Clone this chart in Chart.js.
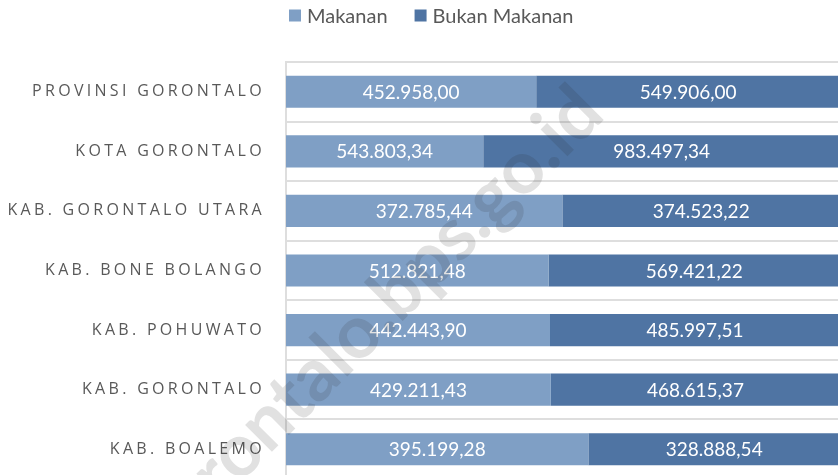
<!DOCTYPE html>
<html>
<head>
<meta charset="utf-8">
<script src="https://cdn.jsdelivr.net/npm/chart.js@4.4.0/dist/chart.umd.min.js"></script>
<style>
html, body { margin: 0; padding: 0; background: #fff; overflow: hidden; }
#wrap { position: relative; width: 840px; height: 479px; }
</style>
</head>
<body>
<div id="wrap"><canvas id="chart"></canvas></div>
<script>
const categories = ['PROVINSI GORONTALO', 'KOTA GORONTALO', 'KAB. GORONTALO UTARA', 'KAB. BONE BOLANGO', 'KAB. POHUWATO', 'KAB. GORONTALO', 'KAB. BOALEMO'];
const makanan = [452958.00, 543803.34, 372785.44, 512821.48, 442443.90, 429211.43, 395199.28];
const bukanMakanan = [549906.00, 983497.34, 374523.22, 569421.22, 485997.51, 468615.37, 328888.54];
const seriesNames = ['Makanan', 'Bukan Makanan'];
const watermarkText = 'gorontalo.bps.go.id';

const COLORS = ['#7f9fc5', '#4f74a3'];
const GRID = '#dedede';
const TEXT = '#595959';

// share of each bar total, so both parts fill 100%
function share(values, i){
	return values[i] / (makanan[i] + bukanMakanan[i]) * 100;
}
// 452958 -> "452.958,00"
function fmtID(n){
	const parts = n.toFixed(2).split('.');
	return parts[0].replace(/\B(?=(\d{3})+(?!\d))/g, '.') + ',' + parts[1];
}

const spacedLabels = {
	id: 'spacedLabels',
	beforeDraw(chart){
		const s = chart.scales.y;
		if(s._spaced) return;
		const orig = s.drawLabels;
		s.drawLabels = function(area){
			this.ctx.save();
			this.ctx.letterSpacing = '3.3px';
			orig.call(this, area);
			this.ctx.restore();
		};
		s._spaced = true;
	}
};

const valueLabels = {
	id: 'valueLabels',
	afterDatasetsDraw(chart){
		const ctx = chart.ctx;
		ctx.save();
		ctx.fillStyle = '#ffffff';
		ctx.font = '19px Lato';
		ctx.textAlign = 'center';
		ctx.textBaseline = 'middle';
		chart.data.datasets.forEach((ds, di) => {
			const meta = chart.getDatasetMeta(di);
			meta.data.forEach((bar, i) => {
				ctx.fillText(fmtID(ds.raw[i]), (bar.x + bar.base) / 2, bar.y + 1);
			});
		});
		ctx.restore();
	}
};

const topLegend = {
	id: 'topLegend',
	afterDraw(chart){
		const ctx = chart.ctx;
		const cy = 15.5;
		let x = 289;
		ctx.save();
		ctx.font = '20px Lato';
		ctx.textBaseline = 'middle';
		chart.data.datasets.forEach(ds => {
			ctx.fillStyle = ds.backgroundColor;
			ctx.fillRect(x, cy - 6, 12, 12);
			ctx.fillStyle = TEXT;
			ctx.fillText(ds.label, x + 18, cy + 1);
			x += 18 + ctx.measureText(ds.label).width + 27;
		});
		ctx.restore();
	}
};

const watermark = {
	id: 'watermark',
	afterDraw(chart){
		const ctx = chart.ctx;
		ctx.save();
		ctx.translate(368, 322);
		ctx.rotate(-Math.PI / 4);
		ctx.font = 'bold 74px Lato';
		ctx.textAlign = 'center';
		ctx.textBaseline = 'middle';
		ctx.fillStyle = 'rgba(40,40,40,0.14)';
		ctx.fillText(watermarkText, 0, 0);
		ctx.restore();
	}
};

new Chart(document.getElementById('chart'), {
	type: 'bar',
	data: {
		labels: categories,
		datasets: [
			{ label: seriesNames[0], data: makanan.map((v, i) => share(makanan, i)), raw: makanan, backgroundColor: COLORS[0] },
			{ label: seriesNames[1], data: bukanMakanan.map((v, i) => share(bukanMakanan, i)), raw: bukanMakanan, backgroundColor: COLORS[1] }
		]
	},
	options: {
		indexAxis: 'y',
		responsive: true,
		maintainAspectRatio: false,
		animation: false,
		barPercentage: 0.54,
		categoryPercentage: 1,
		layout: { padding: { top: 62, left: 0, right: 0, bottom: 0 } },
		plugins: {
			legend: { display: false },
			tooltip: { enabled: false }
		},
		scales: {
			x: { stacked: true, min: 0, max: 100, display: false },
			y: {
				stacked: true,
				grid: { offset: true, color: GRID, lineWidth: 2, drawTicks: false },
				border: { display: true, color: GRID, width: 2 },
				ticks: { color: TEXT, font: { family: 'Open Sans', size: 16 }, padding: 21 },
				afterFit(scale){
					scale.width = 286;
					scale.paddingTop = 0;
					scale.paddingBottom = 0;
				}
			}
		}
	},
	plugins: [spacedLabels, valueLabels, topLegend, watermark]
});
</script>
</body>
</html>
